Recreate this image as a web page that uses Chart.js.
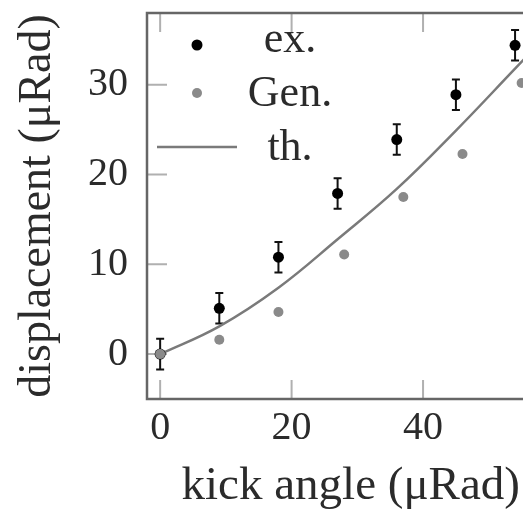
<!DOCTYPE html>
<html lang="en">
<head>
<meta charset="UTF-8">
<title>Kick angle vs displacement</title>
<script src="https://cdn.jsdelivr.net/npm/chart.js"></script>
<style>
  body { margin: 0; background: #fff; overflow: hidden; }
  .wrap { width: 560px; height: 510px; }
</style>
</head>
<body>
<div class="wrap"><canvas id="kickChart"></canvas></div>
<script>
  // data
  const exAngles = [0, 9, 18, 27, 36, 45, 54];
  const exDisp = [0, 5.1, 10.8, 17.9, 23.9, 28.9, 34.4];
  const exErr = [1.7, 1.7, 1.7, 1.7, 1.7, 1.7, 1.7];
  const genAngles = [0, 9, 18, 28, 37, 46, 55];
  const genDisp = [0, 1.6, 4.7, 11.1, 17.5, 22.3, 30.2];
  const thAngles = [0, 9, 18, 27, 36, 45, 54, 60];
  const thDisp = [0, 3.1, 7.4, 12.8, 18.4, 24.9, 31.8, 36.4];
  const xTicks = [0, 20, 40, 60];
  const yTicks = [0, 10, 20, 30];

  const serif = "'Liberation Serif', 'DejaVu Serif', serif";
  const textColor = '#2b2b2b';
  const genColor = '#8a8a8a';
  const lineColor = '#7a7a7a';

  const toXY = (xs, ys) => xs.map((x, i) => ({ x, y: ys[i] }));

  const framePlugin = {
    id: 'frame',
    beforeDatasetsDraw(chart) {
      const { ctx, chartArea: a, scales: { x, y } } = chart;
      ctx.save();
      // inner tick marks on all four sides
      ctx.strokeStyle = '#b0b0b0';
      ctx.lineWidth = 2;
      ctx.beginPath();
      xTicks.forEach(v => {
        const px = x.getPixelForValue(v);
        ctx.moveTo(px, a.bottom); ctx.lineTo(px, a.bottom - 19);
        ctx.moveTo(px, a.top); ctx.lineTo(px, a.top + 19);
      });
      yTicks.forEach(v => {
        const py = y.getPixelForValue(v);
        ctx.moveTo(a.left, py); ctx.lineTo(a.left + 20, py);
        ctx.moveTo(a.right, py); ctx.lineTo(a.right - 20, py);
      });
      ctx.stroke();
      // frame
      ctx.strokeStyle = '#666';
      ctx.lineWidth = 2.5;
      ctx.strokeRect(a.left, a.top, a.right - a.left, a.bottom - a.top);
      // error bars for ex.
      const meta = chart.getDatasetMeta(1);
      ctx.strokeStyle = '#111';
      ctx.lineWidth = 2;
      ctx.beginPath();
      meta.data.forEach((pt, i) => {
        const top = y.getPixelForValue(exDisp[i] + exErr[i]);
        const bot = y.getPixelForValue(exDisp[i] - exErr[i]);
        ctx.moveTo(pt.x, top); ctx.lineTo(pt.x, bot);
        ctx.moveTo(pt.x - 4, top); ctx.lineTo(pt.x + 4, top);
        ctx.moveTo(pt.x - 4, bot); ctx.lineTo(pt.x + 4, bot);
      });
      ctx.stroke();
      ctx.restore();
    },
    afterDraw(chart) {
      // legend inside the plot, top left
      const { ctx } = chart;
      ctx.save();
      ctx.font = '44px ' + serif;
      ctx.fillStyle = textColor;
      ctx.textAlign = 'center';
      ctx.textBaseline = 'alphabetic';
      ctx.fillText('ex.', 290, 52);
      ctx.fillText('Gen.', 290, 106);
      ctx.fillText('th.', 290, 160);
      ctx.fillStyle = '#000';
      ctx.beginPath(); ctx.arc(197, 45, 5.5, 0, Math.PI * 2); ctx.fill();
      ctx.fillStyle = genColor;
      ctx.beginPath(); ctx.arc(197, 93, 5, 0, Math.PI * 2); ctx.fill();
      ctx.strokeStyle = lineColor;
      ctx.lineWidth = 2.5;
      ctx.beginPath(); ctx.moveTo(157, 147); ctx.lineTo(237, 147); ctx.stroke();
      ctx.restore();
    }
  };

  new Chart(document.getElementById('kickChart'), {
    type: 'scatter',
    data: {
      datasets: [
        {
          label: 'Gen.',
          data: toXY(genAngles, genDisp),
          backgroundColor: genColor,
          borderWidth: 0,
          pointRadius: 5
        },
        {
          label: 'ex.',
          data: toXY(exAngles, exDisp),
          backgroundColor: '#000',
          borderWidth: 0,
          pointRadius: 5.5
        },
        {
          label: 'th.',
          type: 'line',
          data: toXY(thAngles, thDisp),
          borderColor: lineColor,
          borderWidth: 2.5,
          pointRadius: 0,
          tension: 0.4,
          fill: false
        }
      ]
    },
    options: {
      responsive: true,
      maintainAspectRatio: false,
      animation: false,
      layout: { padding: { top: 13, right: 4, left: 0, bottom: 0 } },
      plugins: {
        legend: { display: false },
        tooltip: { enabled: false }
      },
      scales: {
        x: {
          type: 'linear',
          min: -2,
          max: 60,
          afterBuildTicks: s => { s.ticks = xTicks.map(v => ({ value: v })); },
          afterFit: s => { s.height = 111; s.paddingLeft = 0; s.paddingRight = 0; },
          grid: { display: false, drawTicks: false },
          border: { display: false },
          ticks: { color: textColor, padding: 5, maxRotation: 0, font: { family: serif, size: 40 } },
          title: {
            display: true,
            text: 'kick angle (μRad)',
            color: textColor,
            font: { family: serif, size: 47, lineHeight: 1 },
            padding: { top: 0, bottom: 0 }
          }
        },
        y: {
          type: 'linear',
          min: -5,
          max: 38,
          afterBuildTicks: s => { s.ticks = yTicks.map(v => ({ value: v })); },
          afterFit: s => { s.width = 147; s.paddingTop = 0; s.paddingBottom = 0; },
          grid: { display: false, drawTicks: false },
          border: { display: false },
          ticks: { color: textColor, padding: 19, font: { family: serif, size: 40 } },
          title: {
            display: true,
            text: 'displacement (μRad)',
            color: textColor,
            font: { family: serif, size: 46, lineHeight: 1 },
            padding: { top: 15, bottom: 0 }
          }
        }
      }
    },
    plugins: [framePlugin]
  });
</script>
</body>
</html>
